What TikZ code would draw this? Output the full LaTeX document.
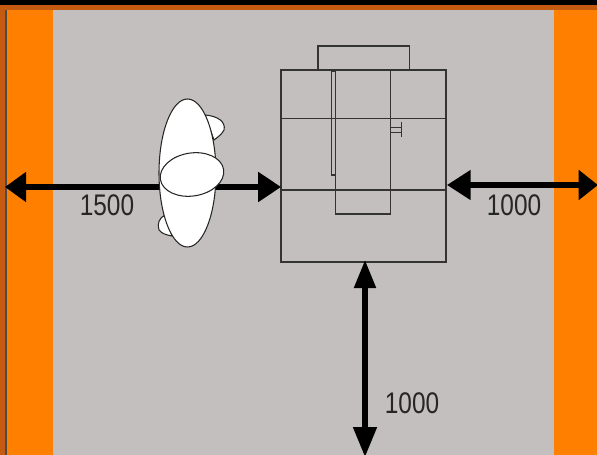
\documentclass[tikz,border=0pt]{standalone}
\usepackage{fontspec}
\setmainfont{Liberation Sans}
\usetikzlibrary{arrows.meta}
\definecolor{wallorange}{HTML}{FF8000}
\definecolor{floorgrey}{HTML}{C3BFBE}
\definecolor{framebrown}{HTML}{C55A11}
\begin{document}
\begin{tikzpicture}[x=0.02cm,y=-0.02cm,
	part/.style={draw=black!80,line width=0.7pt},
	body/.style={draw=black!85,line width=0.6pt,fill=white},
	dimen/.style={line width=2.9pt,black},
	size/.style={font=\fontsize{13.9}{16}\selectfont,yscale=1.22,text=black!85,inner sep=0pt}]
	\useasboundingbox (0,0) rectangle (597,455);
	% room
	\fill [framebrown] (0,0) rectangle (597,455);
	\fill [black] (0,0) rectangle (597,5);
	\fill [black!70] (5,10) rectangle (7,455);
	\fill [wallorange] (7,10) rectangle (597,455);
	\fill [floorgrey] (52.5,10) rectangle (553.5,455);
	% machine
	\draw [part] (318,70) rectangle (409.5,46);
	\draw [part] (281,70) rectangle (446,262);
	\draw [part] (281,118.5)--(446,118.5);
	\draw [part,line width=1pt] (281,190)--(446,190);
	\draw [part] (335.5,70) rectangle (390.5,214);
	\draw [part] (331.7,71) rectangle (335.5,175);
	\draw [part] (390.5,127.3)--(401.7,127.3);
	\draw [part] (390.5,132.7)--(401.7,132.7);
	\draw [part] (401.7,122)--(401.7,137);
	% arrow ends
	\coordinate (wallL) at (5,187);
	\coordinate (machL) at (281,187);
	\coordinate (machR) at (447,185);
	\coordinate (wallR) at (598,185);
	\coordinate (machB) at (365,260);
	\coordinate (wallB) at (365,457);
	\draw [dimen,{Triangle[length=12pt,width=16.5pt]}-{Triangle[length=13pt,width=16.5pt]}] (wallL)--(machL);
	\draw [dimen,{Triangle[length=13.5pt,width=16.5pt]}-{Triangle[length=11pt,width=16.5pt]}] (machR)--(wallR);
	\draw [dimen,{Triangle[length=16pt,width=12pt]}-{Triangle[length=17pt,width=13pt]}] (machB)--(wallB);
	% person
	\draw [body] (205,115) .. controls (218,116) and (226,122) .. (224,130) .. controls (222,134) and (218,137) .. (214,140)--cycle;
	\draw [body] (165,215) .. controls (159,218) and (157,224) .. (159,230) .. controls (162,234) and (167,235) .. (172,236)--cycle;
	\draw [body] (187.5,173) ellipse [x radius=28.5,y radius=74];
	\draw [body,rotate around={9:(192,174.5)}] (192,174.5) ellipse [x radius=32,y radius=21.5];
	% labels
	\node [size] (l1) at (107,205.5) {1500};
	\node [size] (l2) at (514,205.5) {1000};
	\node [size] (l3) at (412,403) {1000};
\end{tikzpicture}
\end{document}
